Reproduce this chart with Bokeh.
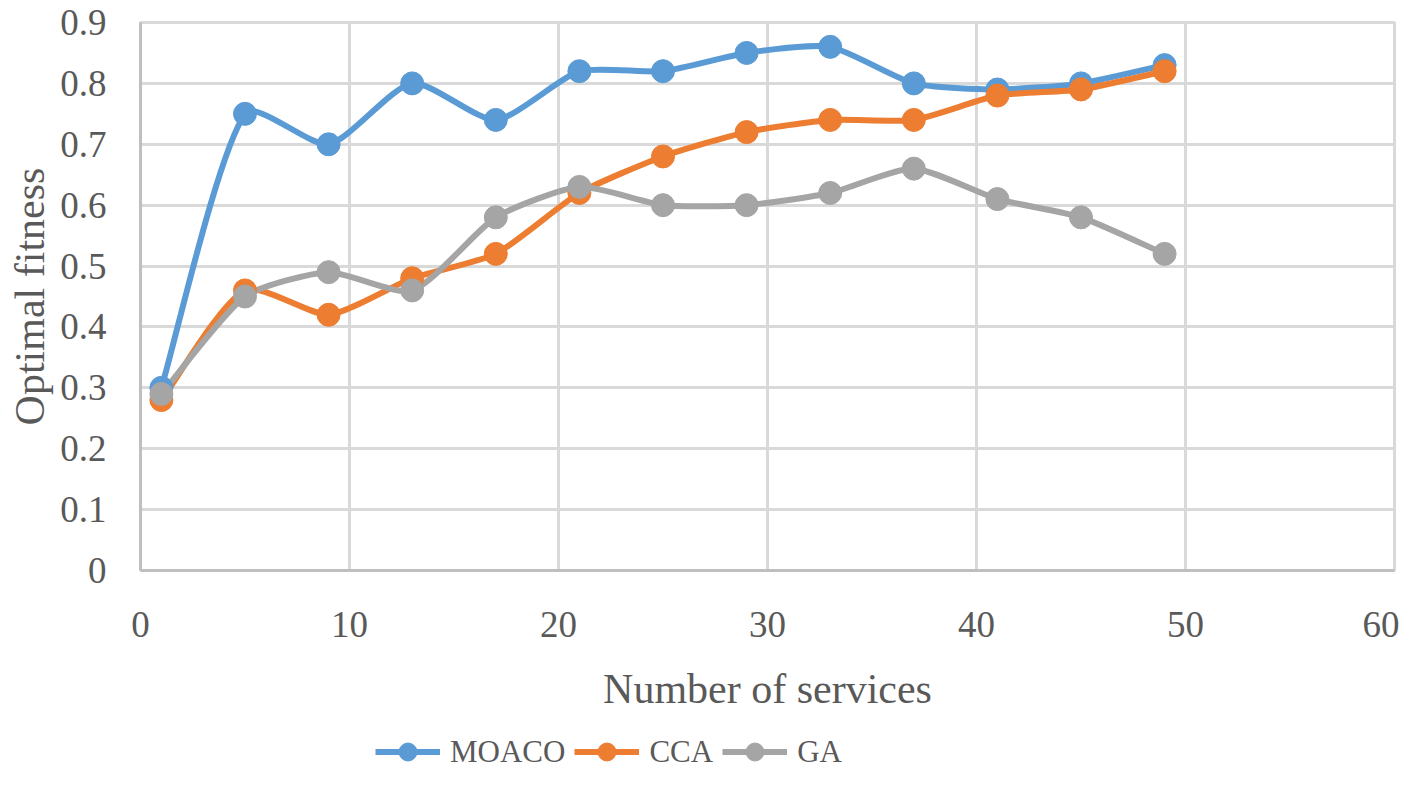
import math
from bokeh.plotting import figure
from bokeh.layouts import column
from bokeh.models import Legend, LegendItem, Range1d, FixedTicker, ColumnDataSource
from bokeh.embed import file_html
from bokeh.resources import INLINE

# ---- data ----
services = [1, 5, 9, 13, 17, 21, 25, 29, 33, 37, 41, 45, 49]
moaco = [0.30, 0.75, 0.70, 0.80, 0.74, 0.82, 0.82, 0.85, 0.86, 0.80, 0.79, 0.80, 0.83]
cca = [0.28, 0.46, 0.42, 0.48, 0.52, 0.62, 0.68, 0.72, 0.74, 0.74, 0.78, 0.79, 0.82]
ga = [0.29, 0.45, 0.49, 0.46, 0.58, 0.63, 0.60, 0.60, 0.62, 0.66, 0.61, 0.58, 0.52]
series_names = ["MOACO", "CCA", "GA"]
x_ticks = [0, 10, 20, 30, 40, 50, 60]
y_ticks = [0, 0.1, 0.2, 0.3, 0.4, 0.5, 0.6, 0.7, 0.8, 0.9]

colors = ["#5B9BD5", "#ED7D31", "#A5A5A5"]
FONT = "Liberation Serif"
TXT = "#595959"
GRID = "#D9D9D9"

W = 1399
H_MAIN, H_LEG = 728, 46
ML, MR, MT, MB = 140, 5, 22, 158
p = figure(width=W, height=H_MAIN, output_backend="svg", toolbar_location=None,
           x_range=Range1d(0, 60), y_range=Range1d(0, 0.9),
           min_border_left=ML, min_border_right=MR, min_border_top=MT, min_border_bottom=MB)
p.background_fill_color = "white"
p.border_fill_color = "white"
p.outline_line_color = GRID
p.outline_line_width = 3

for ax in (p.xaxis[0], p.yaxis[0]):
    ax.major_tick_line_color = None
    ax.minor_tick_line_color = None
    ax.major_label_text_font = FONT
    ax.major_label_text_color = TXT
    ax.major_label_text_font_size = "37px"
    ax.axis_label_text_font = FONT
    ax.axis_label_text_color = TXT
    ax.axis_label_text_font_size = "42px"
    ax.axis_label_text_font_style = "normal"
    ax.axis_line_color = "#BFBFBF"
    ax.axis_line_width = 3

p.xaxis.ticker = FixedTicker(ticks=x_ticks)
p.yaxis.ticker = FixedTicker(ticks=y_ticks)
p.yaxis.major_label_overrides = {0: "0"}
p.xaxis.axis_label = "Number of services"
p.yaxis.axis_label = "Optimal fitness"
p.xaxis.major_label_standoff = 35
p.xaxis.axis_label_standoff = 26
p.yaxis.major_label_standoff = 28
p.yaxis.axis_label_standoff = 4

p.xgrid.grid_line_color = GRID
p.ygrid.grid_line_color = GRID
p.xgrid.grid_line_width = 3
p.ygrid.grid_line_width = 3

# pixel scale of the frame, used only to shape the smoothed curves
sx = (W - ML - MR) / 60.0
sy = (H_MAIN - MT - MB) / 0.9


def smooth_segments(xs, ys):
    """Bezier control points for an Excel-like smoothed line through the data points."""
    n = len(xs)
    P = [(x * sx, y * sy) for x, y in zip(xs, ys)]
    tang = []
    for i in range(n):
        a = P[i - 1] if i > 0 else P[i]
        b = P[i + 1] if i < n - 1 else P[i]
        tx, ty = b[0] - a[0], b[1] - a[1]
        L = math.hypot(tx, ty) or 1.0
        tang.append((tx / L, ty / L, L))
    seg = dict(x0=[], y0=[], x1=[], y1=[], cx0=[], cy0=[], cx1=[], cy1=[])
    for i in range(n - 1):
        d = math.hypot(P[i + 1][0] - P[i][0], P[i + 1][1] - P[i][1])
        ux, uy, L0 = tang[i]
        vx, vy, L1 = tang[i + 1]
        m0 = min(L0 / 6.0, 0.2 * d)
        m1 = min(L1 / 6.0, 0.2 * d)
        seg["x0"].append(xs[i]); seg["y0"].append(ys[i])
        seg["x1"].append(xs[i + 1]); seg["y1"].append(ys[i + 1])
        seg["cx0"].append((P[i][0] + ux * m0) / sx); seg["cy0"].append((P[i][1] + uy * m0) / sy)
        seg["cx1"].append((P[i + 1][0] - vx * m1) / sx); seg["cy1"].append((P[i + 1][1] - vy * m1) / sy)
    return seg


for name, vals, col in zip(series_names, [moaco, cca, ga], colors):
    seg = ColumnDataSource(smooth_segments(services, vals))
    p.bezier(x0="x0", y0="y0", x1="x1", y1="y1", cx0="cx0", cy0="cy0", cx1="cx1", cy1="cy1",
             source=seg, line_color=col, line_width=6)

for name, vals, col in zip(series_names, [moaco, cca, ga], colors):
    p.scatter(services, vals, size=23, marker="circle", fill_color=col, line_color=col)

# ---- legend strip below the chart ----
lf = figure(width=W, height=H_LEG, output_backend="svg", toolbar_location=None,
            x_range=Range1d(0, 1), y_range=Range1d(0, 1),
            min_border_left=0, min_border_right=0, min_border_top=0, min_border_bottom=0)
lf.axis.visible = False
lf.grid.visible = False
lf.outline_line_color = None
lf.background_fill_color = "white"
lf.border_fill_color = "white"

items = []
for name, col in zip(series_names, colors):
    # off-range placeholder renderers, only used to draw the legend swatches
    lr = lf.line([-5, -4], [-5, -5], line_color=col, line_width=6)
    sr = lf.scatter([-5], [-5], size=23, marker="circle", fill_color=col, line_color=col)
    items.append(LegendItem(label=name, renderers=[lr, sr]))

legend = Legend(items=items, orientation="horizontal", location=(235, 0),
                label_text_font=FONT, label_text_color=TXT, label_text_font_size="31px",
                glyph_width=65, glyph_height=45, label_standoff=10, spacing=9,
                padding=0, margin=0, border_line_color=None, background_fill_alpha=0)
lf.add_layout(legend, "center")

layout = column(p, lf, spacing=0)
open("out.html", "w").write(file_html(layout, INLINE))
